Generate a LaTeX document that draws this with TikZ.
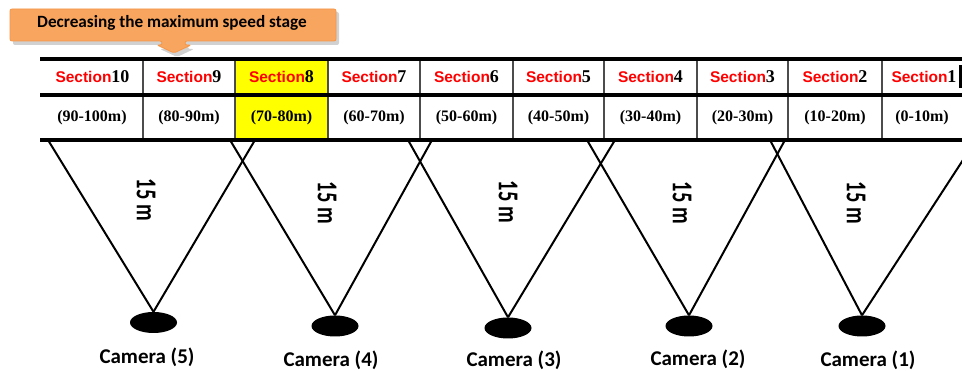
\documentclass[tikz,border=0pt]{standalone}
\usepackage{fontspec}
\setmainfont{Liberation Serif}
\newfontfamily\calfont{Carlito}
\newfontfamily\arlfont{Liberation Sans}
\usetikzlibrary{shapes.geometric}
\definecolor{cedge}{RGB}{248,165,95}
\definecolor{cmid}{RGB}{254,236,218}
\definecolor{cborder}{RGB}{246,150,70}
\definecolor{cellyellow}{RGB}{255,255,0}
\tikzset{
  bar/.style={line width=4pt, black},
  vline/.style={line width=1.4pt, black!70},
  ray/.style={line width=2pt, black},
  cam/.style={ellipse, fill=black, minimum width=47pt, minimum height=21pt, inner sep=0pt},
  camlabel/.style={font=\calfont\bfseries\fontsize{21}{21}\selectfont, inner sep=0pt},
  dist/.style={rotate=-90, font=\calfont\bfseries\fontsize{20.5}{20.5}\selectfont, inner sep=0pt},
  sectxt/.style={inner sep=0pt},
  rangetxt/.style={font=\bfseries\fontsize{16}{16}\selectfont, inner sep=0pt},
}
\newcommand{\secname}[1]{{\arlfont\bfseries\fontsize{15.5}{15.5}\selectfont\color{red}Section}{\bfseries\fontsize{18}{18}\selectfont #1}}
\newcommand{\fifteen}{\scalebox{1}[1.4]{15 m}}
\begin{document}
\begin{tikzpicture}[x=1pt,y=-1pt]
\useasboundingbox (0,0) rectangle (962,371);
\clip (0,0) rectangle (962,371);
\fill[white] (0,0) rectangle (962,371);
% callout
\fill[black, opacity=0.18, rounded corners=2pt] (13,12) -- (339,12) -- (339,45) -- (188,45) -- (188,49) -- (194,49) -- (177,57) -- (160,49) -- (165,49) -- (165,45) -- (13,45) -- cycle;
\path[draw=cborder, line width=0.8pt, top color=cedge, middle color=cmid, bottom color=cedge, rounded corners=2pt]
  (10,9) -- (336,9) -- (336,41) -- (185,41) -- (185,45) -- (191,45) -- (174,53) -- (157,45) -- (162,45) -- (162,41) -- (10,41) -- cycle;
\node[font=\calfont\bfseries\fontsize{17.2}{17.2}\selectfont, inner sep=0pt] (title) at (172,23) {Decreasing the maximum speed stage};
% cameras
\node[cam] (c5) at (153.5,322.5) {};
\node[cam] (c4) at (335,326) {};
\node[cam] (c3) at (508,328) {};
\node[cam] (c2) at (689,326) {};
\node[cam] (c1) at (862,326) {};
\coordinate (t5l) at (48,140);  \coordinate (t5r) at (255,140);
\coordinate (t4l) at (230,140); \coordinate (t4r) at (432,140);
\coordinate (t3l) at (408,140); \coordinate (t3r) at (615,140);
\coordinate (t2l) at (587,140); \coordinate (t2r) at (785,140);
\coordinate (t1l) at (770,140); \coordinate (t1r) at (976,140);
\foreach \i in {1,...,5}{
  \draw[ray] (c\i.north) -- (t\i l);
  \draw[ray] (c\i.north) -- (t\i r);
}
% table
\fill[cellyellow] (235,60) rectangle (328,138);
\foreach \x in {143,235,328,420,513,604,697,788,882}{
  \draw[vline] (\x,60) -- (\x,138);
}
\draw[bar] (40,59) -- (962,59);
\draw[bar] (40,95.5) -- (962,95.5);
\draw[bar] (40,140) -- (962,140);
\fill[black] (959,65) rectangle (962,88);
% section names
\node[sectxt] (s10) at (92.5,77) {\secname{10}};
\node[sectxt] (s9) at (189,77) {\secname{9}};
\node[sectxt] (s8) at (281.5,77) {\secname{8}};
\node[sectxt] (s7) at (374,77) {\secname{7}};
\node[sectxt] (s6) at (466.5,77) {\secname{6}};
\node[sectxt] (s5) at (558.5,77) {\secname{5}};
\node[sectxt] (s4) at (650.5,77) {\secname{4}};
\node[sectxt] (s3) at (742.5,77) {\secname{3}};
\node[sectxt] (s2) at (835,77) {\secname{2}};
\node[sectxt] (s1) at (924,77) {\secname{1}};
% ranges
\node[rangetxt] (r10) at (92,118) {(90-100m)};
\node[rangetxt] (r9) at (189,118) {(80-90m)};
\node[rangetxt] (r8) at (281.5,118) {(70-80m)};
\node[rangetxt] (r7) at (374,118) {(60-70m)};
\node[rangetxt] (r6) at (466.5,118) {(50-60m)};
\node[rangetxt] (r5) at (558.5,118) {(40-50m)};
\node[rangetxt] (r4) at (650.5,118) {(30-40m)};
\node[rangetxt] (r3) at (742.5,118) {(20-30m)};
\node[rangetxt] (r2) at (835,118) {(10-20m)};
\node[rangetxt] (r1) at (922,118) {(0-10m)};
% distance labels
\node[dist] (d5) at (146,200) {\fifteen};
\node[dist] (d4) at (327,203) {\fifteen};
\node[dist] (d3) at (508,202) {\fifteen};
\node[dist] (d2) at (682,203) {\fifteen};
\node[dist] (d1) at (856,203) {\fifteen};
% camera labels
\node[camlabel] (l5) at (147,357) {Camera (5)};
\node[camlabel] (l4) at (331,360) {Camera (4)};
\node[camlabel] (l3) at (514,360) {Camera (3)};
\node[camlabel] (l2) at (698,359) {Camera (2)};
\node[camlabel] (l1) at (868,360) {Camera (1)};
\end{tikzpicture}
\end{document}
